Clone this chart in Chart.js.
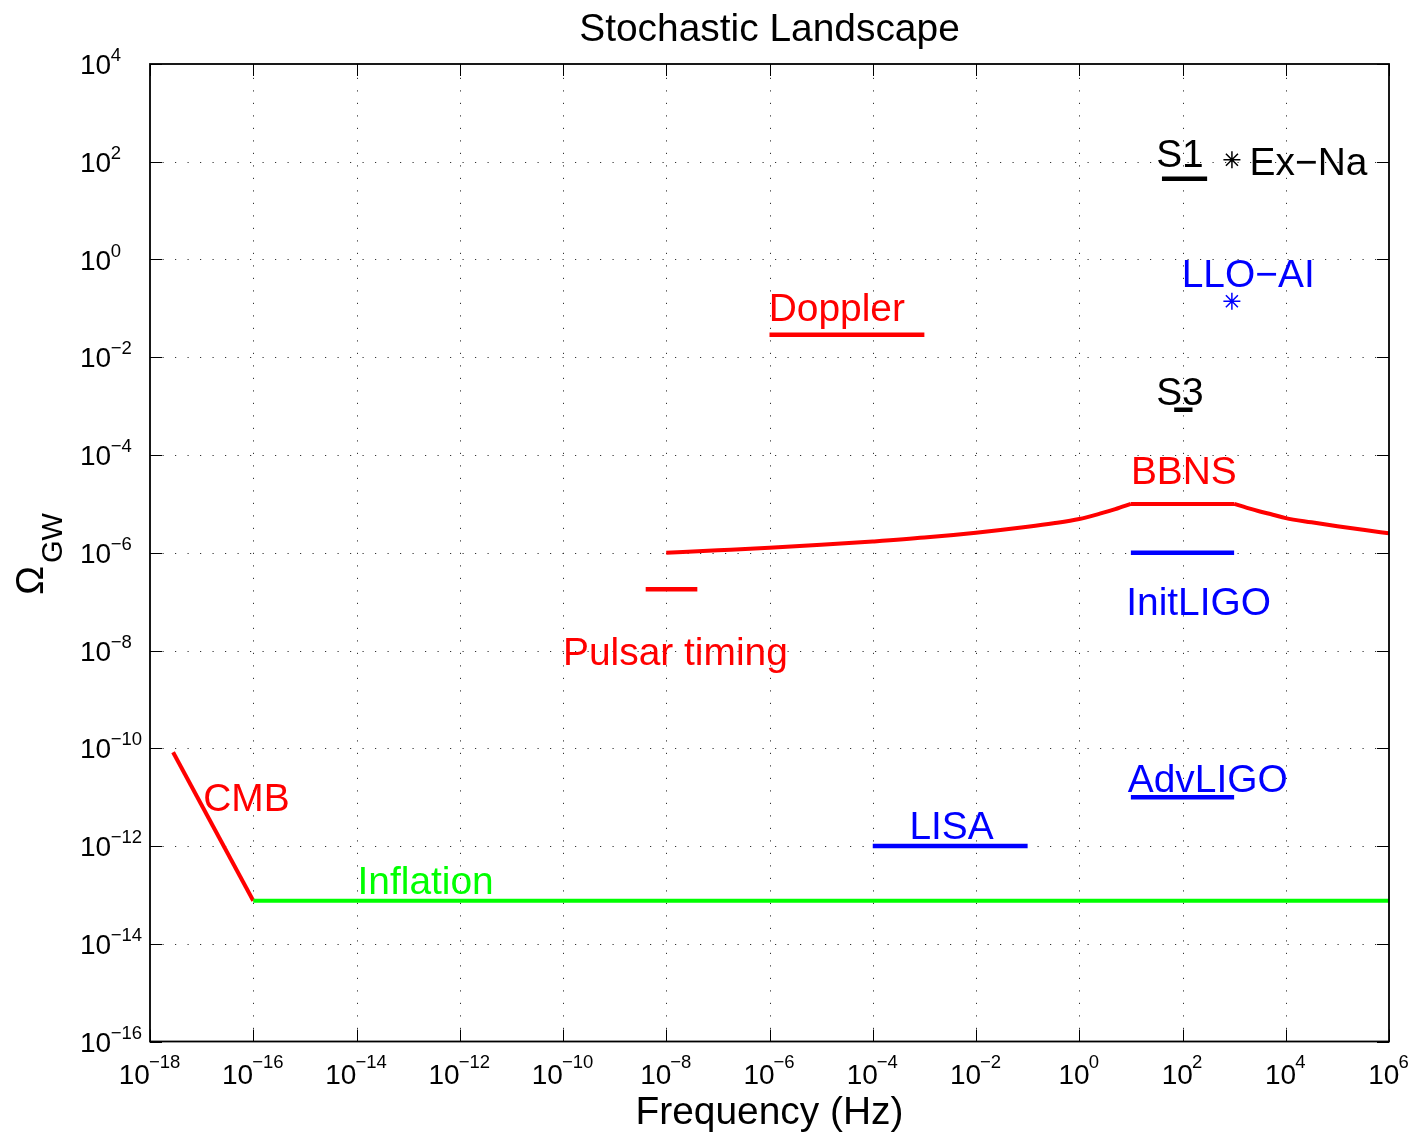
<!DOCTYPE html>
<html><head><meta charset="utf-8">
<script src="https://cdn.jsdelivr.net/npm/chart.js@4.4.0/dist/chart.umd.min.js"></script>
<style>html,body{margin:0;padding:0;background:#fff;} #wrap{width:1415px;height:1136px;position:relative;}</style>
</head><body><div id="wrap"><canvas id="c"></canvas></div>
<script>
// ---- tick labels (powers of ten) ----
const xTickExponents = [-18,-16,-14,-12,-10,-8,-6,-4,-2,0,2,4,6];
const yTickExponents = [-16,-14,-12,-10,-8,-6,-4,-2,0,2,4];

// ---- series ----
const cmbFreq = [2.8e-18, 1e-16];
const cmbOmega = [8.3e-11, 7.6e-14];
const inflationFreq = [1e-16, 1e6];
const inflationOmega = [7.6e-14, 7.6e-14];
const bbnsFreq  = [1e-8, 1e-7, 1e-6, 1e-5, 1e-4, 1e-3, 1e-2, 1e-1, 0.316, 1, 2.5, 5, 10, 1000, 1778, 3162, 5623, 1e4, 3.16e4, 1e5, 3.16e5, 1e6];
const bbnsOmega = [1.0e-6, 1.12e-6, 1.26e-6, 1.45e-6, 1.7e-6, 2.04e-6, 2.57e-6, 3.4e-6, 4.0e-6, 4.9e-6, 6.3e-6, 7.8e-6, 1e-5, 1e-5, 8.3e-6, 7.0e-6, 6.0e-6, 5.1e-6, 4.2e-6, 3.5e-6, 2.95e-6, 2.5e-6];
const pulsarFreq = [4e-9, 4e-8];
const pulsarOmega = [1.8e-7, 1.8e-7];
const dopplerFreq = [1e-6, 1e-3];
const dopplerOmega = [2.9e-2, 2.9e-2];
const lisaFreq = [1e-4, 1e-1];
const lisaOmega = [1e-12, 1e-12];
const initLigoFreq = [10, 1000];
const initLigoOmega = [1e-6, 1e-6];
const advLigoFreq = [10, 1000];
const advLigoOmega = [1e-11, 1e-11];
const s1Freq = [40, 300];
const s1Omega = [45, 45];
const s3Freq = [69, 156];
const s3Omega = [8.4e-4, 8.4e-4];
const exNaFreq = [907];
const exNaOmega = [110];
const lloAiFreq = [905];
const lloAiOmega = [0.14];

// ---- text annotations (anchor in data units: left edge, vertical middle) ----
const annotationTexts = ['S1','Ex\u2212Na','LLO\u2212AI','Doppler','S3','BBNS','InitLIGO','Pulsar timing','AdvLIGO','LISA','CMB','Inflation'];
const annotationFreq  = [10**1.49, 10**3.30, 10**1.985, 10**-6.015, 10**1.49, 10**1.0, 10**0.91, 10**-10.0, 10**0.94, 10**-3.29, 10**-16.97, 10**-13.98];
const annotationOmega = [10**2.174, 10**2.01, 10**-0.283, 10**-0.974, 10**-2.698, 10**-4.307, 10**-6.983, 10**-8.006, 10**-10.612, 10**-11.578, 10**-11.0, 10**-12.694];
const annotationColors = ['#000','#000','#0000ff','#ff0000','#000','#ff0000','#0000ff','#ff0000','#0000ff','#0000ff','#ff0000','#00ff00'];

const RED = '#ff0000', BLUE = '#0000ff', GREEN = '#00ff00', BLACK = '#000000';
const FONT = '"Liberation Sans", Arial, Helvetica, sans-serif';

function pts(xs, ys) { return xs.map((x, i) => ({x: x, y: ys[i]})); }
function lineSet(xs, ys, color, w, smooth) {
  const ds = {data: pts(xs, ys), showLine: true, borderColor: color, backgroundColor: color,
          borderWidth: w, pointRadius: 0, tension: 0, borderCapStyle: 'butt', borderJoinStyle: 'round'};
  if (smooth) ds.cubicInterpolationMode = 'monotone';
  return ds;
}
function markSet(xs, ys, color) {
  return {data: pts(xs, ys), showLine: false, borderColor: color, backgroundColor: color,
          pointStyle: 'star', pointRadius: 8.5, borderWidth: 1.5};
}
// BBNS split into rising part, plateau and falling part (sharp corners between)
const iPlateauStart = bbnsFreq.indexOf(10), iPlateauEnd = bbnsFreq.indexOf(1000);

const decorPlugin = {
  id: 'decor',
  beforeDatasetsDraw(chart) {
    const ctx = chart.ctx, a = chart.chartArea, xs = chart.scales.x, ys = chart.scales.y;
    ctx.save();
    ctx.strokeStyle = '#333';
    ctx.lineWidth = 1;
    ctx.setLineDash([1.2, 11.3]);
    xTickExponents.forEach(e => {
      const px = Math.round(xs.getPixelForValue(10 ** e)) + 0.5;
      if (px <= a.left + 1 || px >= a.right - 1) return;
      ctx.beginPath(); ctx.moveTo(px, a.bottom); ctx.lineTo(px, a.top); ctx.stroke();
    });
    yTickExponents.forEach(e => {
      const py = Math.round(ys.getPixelForValue(10 ** e)) + 0.5;
      if (py <= a.top + 1 || py >= a.bottom - 1) return;
      ctx.beginPath(); ctx.moveTo(a.left, py); ctx.lineTo(a.right, py); ctx.stroke();
    });
    ctx.restore();
  },
  afterDatasetsDraw(chart) {
    const ctx = chart.ctx, a = chart.chartArea, xs = chart.scales.x, ys = chart.scales.y;
    ctx.save();
    // ticks
    ctx.strokeStyle = '#000'; ctx.lineWidth = 1; ctx.setLineDash([]);
    const tl = 12;
    xTickExponents.forEach(e => {
      const px = Math.round(xs.getPixelForValue(10 ** e)) + 0.5;
      ctx.beginPath();
      ctx.moveTo(px, a.bottom); ctx.lineTo(px, a.bottom - tl);
      ctx.moveTo(px, a.top); ctx.lineTo(px, a.top + tl);
      ctx.stroke();
    });
    yTickExponents.forEach(e => {
      const py = Math.round(ys.getPixelForValue(10 ** e)) + 0.5;
      ctx.beginPath();
      ctx.moveTo(a.left, py); ctx.lineTo(a.left + tl, py);
      ctx.moveTo(a.right, py); ctx.lineTo(a.right - tl, py);
      ctx.stroke();
    });
    // box
    ctx.lineWidth = 1.8;
    ctx.strokeRect(a.left, a.top, a.right - a.left, a.bottom - a.top);

    // tick labels
    ctx.fillStyle = '#000';
    ctx.textBaseline = 'alphabetic';
    ctx.textAlign = 'left';
    const baseFont = '28px ' + FONT, expFont = '18.5px ' + FONT;
    xTickExponents.forEach(e => {
      const px = xs.getPixelForValue(10 ** e);
      const expStr = e < 0 ? '\u2212' + (-e) : String(e);
      ctx.font = baseFont; const w1 = ctx.measureText('10').width;
      ctx.font = expFont; const w2 = ctx.measureText(expStr).width;
      const x0 = px - (w1 + w2) / 2;
      ctx.font = baseFont; ctx.fillText('10', x0, 1084);
      ctx.font = expFont; ctx.fillText(expStr, x0 + w1 - 1, 1068);
    });
    yTickExponents.forEach(e => {
      const py = ys.getPixelForValue(10 ** e);
      const expStr = e < 0 ? '\u2212' + (-e) : String(e);
      ctx.font = baseFont; const w1 = ctx.measureText('10').width;
      ctx.fillText('10', 80, py + 10);
      ctx.font = expFont; ctx.fillText(expStr, 80 + w1 - 0.5, py - 3);
    });

    // annotations
    const lf = 38.9;
    ctx.font = lf + 'px ' + FONT;
    annotationTexts.forEach((t, i) => {
      const px = xs.getPixelForValue(annotationFreq[i]);
      const py = ys.getPixelForValue(annotationOmega[i]);
      ctx.fillStyle = annotationColors[i];
      ctx.fillText(t, px, py + lf * 0.358);
    });

    // title and axis labels
    ctx.fillStyle = '#000';
    ctx.textAlign = 'center';
    ctx.font = '38.9px ' + FONT;
    const cx = (a.left + a.right) / 2;
    ctx.fillText('Stochastic Landscape', cx, 41);
    ctx.fillText('Frequency (Hz)', cx, 1124);

    ctx.translate(43, 595);
    ctx.rotate(-Math.PI / 2);
    ctx.textAlign = 'left';
    ctx.font = '38.9px ' + FONT;
    ctx.fillText('\u03A9', 0, 0);
    ctx.font = '29px ' + FONT;
    ctx.fillText('GW', 32, 19);
    ctx.restore();
  }
};

new Chart(document.getElementById('c'), {
  type: 'scatter',
  data: {
    datasets: [
      lineSet(inflationFreq, inflationOmega, GREEN, 4),
      lineSet(cmbFreq, cmbOmega, RED, 4),
      lineSet(bbnsFreq.slice(0, iPlateauStart + 1), bbnsOmega.slice(0, iPlateauStart + 1), RED, 4, true),
      lineSet(bbnsFreq.slice(iPlateauStart, iPlateauEnd + 1), bbnsOmega.slice(iPlateauStart, iPlateauEnd + 1), RED, 4),
      lineSet(bbnsFreq.slice(iPlateauEnd), bbnsOmega.slice(iPlateauEnd), RED, 4, true),
      lineSet(pulsarFreq, pulsarOmega, RED, 4.5),
      lineSet(dopplerFreq, dopplerOmega, RED, 4.5),
      lineSet(lisaFreq, lisaOmega, BLUE, 4.5),
      lineSet(initLigoFreq, initLigoOmega, BLUE, 4.5),
      lineSet(advLigoFreq, advLigoOmega, BLUE, 4.5),
      lineSet(s1Freq, s1Omega, BLACK, 4.5),
      lineSet(s3Freq, s3Omega, BLACK, 4.5),
      markSet(exNaFreq, exNaOmega, BLACK),
      markSet(lloAiFreq, lloAiOmega, BLUE)
    ]
  },
  options: {
    responsive: true,
    maintainAspectRatio: false,
    animation: false,
    layout: {padding: {left: 150, top: 64, right: 26, bottom: 94.5}},
    plugins: {legend: {display: false}, tooltip: {enabled: false}, title: {display: false}},
    scales: {
      x: {type: 'logarithmic', min: 1e-18, max: 1e6, display: false},
      y: {type: 'logarithmic', min: 1e-16, max: 1e4, display: false}
    }
  },
  plugins: [decorPlugin]
});
</script>
</body></html>
